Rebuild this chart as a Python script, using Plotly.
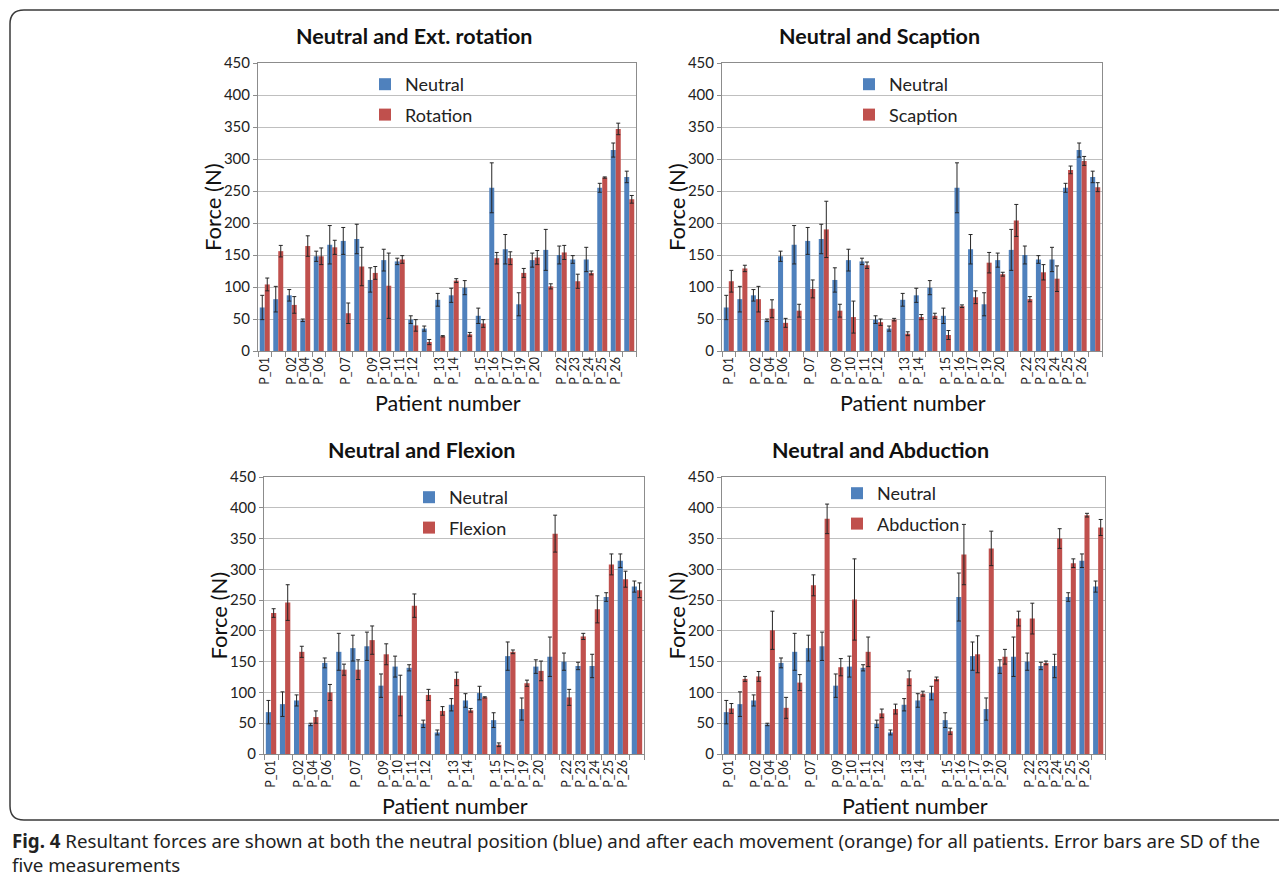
import plotly.graph_objects as go

W, H = 1287, 883
OFF = 8  # default page body margin

# ---------------- data ----------------
patients = ["P_01", "", "P_02", "P_04", "P_06", "", "P_07", "", "P_09", "P_10",
            "P_11", "P_12", "", "P_13", "P_14", "", "P_15", "P_16", "P_17", "P_19",
            "P_20", "", "P_22", "P_23", "P_24", "P_25", "P_26", ""]

neutral = [68, 81, 87, 48, 148, 166, 172, 175, 111, 142, 140, 49, 35, 80, 87, 99,
           55, 255, 159, 73, 142, 158, 150, 143, 143, 255, 314, 272]
neutral_sd = [19, 20, 9, 2, 8, 30, 21, 23, 19, 17, 5, 6, 4, 10, 11, 11,
              12, 39, 23, 18, 11, 32, 14, 6, 19, 7, 11, 9]

rotation = [104, 156, 72, 164, 148, 162, 59, 132, 122, 102, 143, 40, 14, 23, 110, 26,
            43, 145, 145, 122, 146, 101, 154, 109, 122, 271, 347, 237]
rotation_sd = [10, 9, 13, 16, 13, 11, 16, 30, 10, 51, 6, 9, 4, 1, 3, 3,
               6, 9, 10, 7, 11, 4, 11, 11, 3, 1, 9, 6]

scaption = [109, 129, 81, 66, 44, 63, 97, 190, 63, 53, 134, 45, 49, 27, 53, 55,
            25, 70, 84, 138, 120, 204, 81, 123, 113, 283, 297, 256]
scaption_sd = [17, 5, 20, 14, 7, 10, 14, 44, 10, 25, 5, 5, 2, 3, 4, 4,
               7, 2, 10, 16, 3, 25, 4, 12, 20, 6, 7, 7]

# flexion chart has no P_16 group
flexion_patients = [p for p in patients if p != "P_16"]
flexion_neutral = [v for v, p in zip(neutral, patients) if p != "P_16"]
flexion_neutral_sd = [v for v, p in zip(neutral_sd, patients) if p != "P_16"]
flexion = [229, 246, 166, 60, 100, 137, 137, 185, 162, 95, 241, 96, 70, 122, 71, 92,
           15, 166, 115, 135, 358, 92, 191, 235, 308, 284, 266]
flexion_sd = [7, 29, 9, 10, 13, 9, 16, 23, 17, 33, 19, 9, 7, 11, 3, 1,
              3, 3, 5, 16, 30, 13, 5, 22, 17, 13, 12]

abduction = [74, 122, 126, 201, 75, 116, 274, 382, 141, 251, 166, 66, 73, 123, 98, 122,
             37, 324, 162, 334, 158, 220, 220, 148, 350, 310, 388, 368]
abduction_sd = [8, 4, 8, 31, 17, 13, 17, 24, 14, 66, 24, 7, 8, 12, 4, 3,
                5, 49, 30, 28, 12, 12, 25, 3, 16, 7, 3, 13]

y_ticks = [0, 50, 100, 150, 200, 250, 300, 350, 400, 450]

BLUE = "#4F81BD"
RED = "#C0504D"
FONT = "Lato"

# panel definitions: title, labels, neutral, sd, movement, sd, name, plot box px (x0,x1,y0,y1), legend pos px
panels = [
    ("Neutral and Ext. rotation", patients, neutral, neutral_sd, rotation, rotation_sd, "Rotation",
     (258, 636, 63, 351), (365, 66)),
    ("Neutral and Scaption", patients, neutral, neutral_sd, scaption, scaption_sd, "Scaption",
     (722, 1102, 63, 351), (849, 66)),
    ("Neutral and Flexion", flexion_patients, flexion_neutral, flexion_neutral_sd, flexion, flexion_sd, "Flexion",
     (264, 644, 477, 754), (409, 479)),
    ("Neutral and Abduction", patients, neutral, neutral_sd, abduction, abduction_sd, "Abduction",
     (722, 1105, 477, 754), (837, 475)),
]

fig = go.Figure()
layout = dict(
    width=W, height=H,
    margin=dict(l=0, r=0, t=0, b=0, pad=0, autoexpand=False),
    paper_bgcolor="white", plot_bgcolor="white",
    barmode="group", bargap=0.26, bargroupgap=0.0,
    font=dict(family=FONT, color="#222"),
    annotations=[], shapes=[],
)


def px(x):
    return (x - OFF) / W


def py(y):
    return 1 - (y - OFF) / H


for i, (title, labels, neu, neu_sd, mov, mov_sd, mname, box, lg) in enumerate(panels, start=1):
    x0, x1, y0, y1 = box
    xs = list(range(len(labels)))
    xa = "x" if i == 1 else f"x{i}"
    ya = "y" if i == 1 else f"y{i}"
    lname = "legend" if i == 1 else f"legend{i}"
    err = dict(type="data", color="#262626", thickness=1, width=2)
    fig.add_trace(go.Bar(x=xs, y=neu, name="Neutral", marker_color=BLUE, marker_line_width=0,
                         error_y=dict(array=neu_sd, **err), xaxis=xa, yaxis=ya,
                         legend=lname, legendgroup=f"n{i}"))
    fig.add_trace(go.Bar(x=xs, y=mov, name=mname, marker_color=RED, marker_line_width=0,
                         error_y=dict(array=mov_sd, **err), xaxis=xa, yaxis=ya,
                         legend=lname, legendgroup=f"m{i}"))
    tv = [k for k, p in enumerate(labels) if p]
    tt = [p for p in labels if p]
    layout["xaxis" if i == 1 else f"xaxis{i}"] = dict(
        domain=[px(x0), px(x1)], anchor=ya, range=[-0.5, len(labels) - 0.5],
        tickmode="array", tickvals=tv, ticktext=tt, tickangle=-90, ticks="",
        tickfont=dict(size=12.5, color="#222"),
        minor=dict(tickmode="linear", tick0=-0.5, dtick=1, ticks="outside", ticklen=5,
                   tickcolor="#8C8C8C", showgrid=False),
        showline=True, linecolor="#8C8C8C", linewidth=1, mirror=True,
        showgrid=False, zeroline=False, fixedrange=True, automargin=False,
    )
    layout["yaxis" if i == 1 else f"yaxis{i}"] = dict(
        domain=[py(y1), py(y0)], anchor=xa, range=[0, 450],
        tickmode="array", tickvals=y_ticks, ticks="outside", ticklen=4, tickcolor="#8C8C8C",
        tickfont=dict(size=15, color="#222"),
        showline=True, linecolor="#8C8C8C", linewidth=1, mirror=True,
        showgrid=True, gridcolor="#BFBFBF", gridwidth=1, zeroline=False, automargin=False,
    )
    layout[lname] = dict(
        x=px(lg[0]), y=py(lg[1]), xanchor="left", yanchor="top",
        bgcolor="rgba(0,0,0,0)", borderwidth=0,
        font=dict(size=18, color="#222", family=FONT),
        tracegroupgap=4, itemwidth=30, orientation="v",
    )
    cx = (x0 + x1) / 2
    layout["annotations"] += [
        dict(text=f"<b>{title}</b>", x=px(cx - 33), y=py(y0 - 27), xref="paper", yref="paper",
             showarrow=False, font=dict(size=21.5, color="#111"), xanchor="center", yanchor="middle"),
        dict(text="Force (N)", x=px(x0 - 46), y=py((y0 + y1) / 2), xref="paper", yref="paper",
             showarrow=False, font=dict(size=22, color="#111"), textangle=-90,
             xanchor="center", yanchor="middle"),
        dict(text="Patient number", x=px(cx + 1), y=py(y1 + 52), xref="paper", yref="paper",
             showarrow=False, font=dict(size=21.5, color="#111"), xanchor="center", yanchor="middle"),
    ]

layout["annotations"].append(dict(
    text="<b>Fig. 4</b> Resultant forces are shown at both the neutral position (blue) and after each "
         "movement (orange) for all patients. Error bars are SD of the<br>five measurements",
    x=px(10), y=py(826), xref="paper", yref="paper", xanchor="left", yanchor="top",
    align="left", showarrow=False, font=dict(size=18.7, color="#222", family="Noto Sans"),
))

layout["shapes"].append(dict(
    type="path", xref="paper", yref="paper", layer="above",
    path=f"M {px(1300)},{py(10)} L {px(24)},{py(10)} Q {px(10)},{py(10)} {px(10)},{py(24)} "
         f"L {px(10)},{py(806)} Q {px(10)},{py(820)} {px(24)},{py(820)} L {px(1300)},{py(820)}",
    line=dict(color="#3A3A3A", width=1.5),
))

fig.update_layout(**layout)
fig.write_html("out.html")
